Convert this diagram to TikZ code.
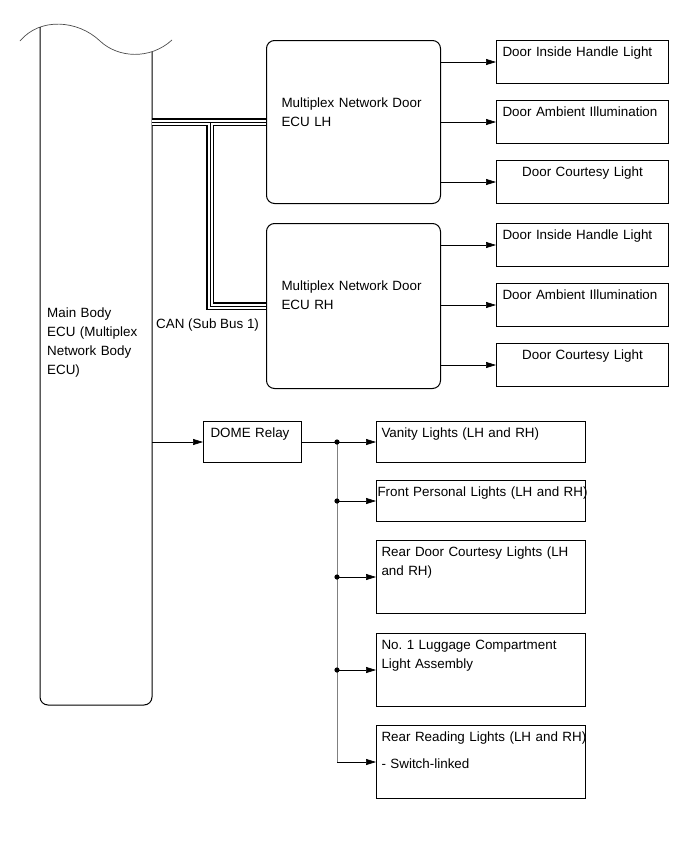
\documentclass[tikz,border=0pt]{standalone}
\usepackage{fontspec}
\setmainfont{Liberation Sans}
\usetikzlibrary{arrows.meta}
\tikzset{ecu/.style={draw,line width=1pt,rounded corners=8pt,anchor=north west,align=left,
  inner xsep=15pt,inner ysep=0pt,text width=144pt,text height=67pt,text depth=#1},
  lamp/.style={draw,line width=1pt,anchor=north west,align=left,inner xsep=6pt,inner ysep=0pt,
  text height=16pt,text depth=#1},
  door/.style={lamp=27pt,text width=160pt},
  light/.style={lamp=#1,text width=199pt,inner xsep=5pt},
  flow/.style={-{Triangle[length=10pt,width=6pt]},line width=0.7pt},
  spine/.style={line width=0.8pt,draw=black!50}}

\begin{document}
\begin{tikzpicture}[x=1pt,y=-1pt,font=\fontsize{13.4}{19}\selectfont]
\useasboundingbox (0,0) rectangle (691,854);
% main body, cut off at the top
\draw[line width=0.7pt,black!70] (20,41) .. controls (40,17) and (78,20) .. (100,41)
  .. controls (118,58) and (150,60) .. (172,40);
\draw[line width=1pt,rounded corners=8pt] (40,27) -- (40,705) -- (152,705) -- (152,52);
\coordinate (mainR) at (152,0);
\node[anchor=base west,align=left,text width=100pt,inner sep=0pt] (body) at (47,317) {Main Body\\ECU (Multiplex\\Network Body\\ECU)};
% door ECUs
\node[ecu=96pt] (ecul) at (266,40) {Multiplex Network Door\\ECU LH};
\node[ecu=98pt] (ecur) at (266,223) {Multiplex Network Door\\ECU RH};
\node[door] (handl) at (496,40) {Door Inside Handle Light};
\node[door] (ambl) at (496,100) {Door Ambient Illumination};
\node[door,align=center] (courl) at (496,160) {Door Courtesy Light};
\node[door] (handr) at (496,223) {Door Inside Handle Light};
\node[door] (ambr) at (496,283) {Door Ambient Illumination};
\node[door,align=center] (courr) at (496,343) {Door Courtesy Light};
\foreach \n in {handl,ambl,courl} \draw[flow] (ecul.east |- \n.west) -- (\n.west);
\foreach \n in {handr,ambr,courr} \draw[flow] (ecur.east |- \n.west) -- (\n.west);
% CAN sub bus
\coordinate (tap) at (210,0);
\foreach \w/\c in {8pt/black,5pt/white,0.8pt/black}
  \draw[line width=\w,draw=\c,shorten >=0.5pt,shorten <=0.5pt] (mainR |- ecul.west) -- (ecul.west) (tap |- ecul.west) |- (ecur.west);
\node[anchor=base west,inner sep=0pt] (can) at (156,328) {CAN (Sub Bus 1)};
% dome relay and room lights
\node[lamp=25pt,text width=84pt,inner xsep=7pt] (dome) at (203,421) {DOME Relay};
\node[light=25pt] (vanity) at (376,421) {Vanity Lights (LH and RH)};
\node[light=25pt,text width=207pt,inner xsep=1pt] (front) at (376,480) {\mbox{Front Personal Lights (LH and RH)}};
\node[light=57pt] (rdoor) at (376,540) {Rear Door Courtesy Lights (LH\\and RH)};
\node[light=57pt] (lugg) at (376,633) {No.\ 1 Luggage Compartment\\Light Assembly};
\node[light=57pt] (rread) at (376,725) {\mbox{Rear Reading Lights (LH and RH)}\\[8pt]- Switch-linked};
\coordinate (spine) at (337,0);
\draw[flow] (mainR |- dome.west) -- (dome.west);
\draw[flow] (dome.east) -- (vanity.west);
\draw[spine] (spine |- vanity.west) -- (spine |- rread.west);
\foreach \n in {front,rdoor,lugg,rread} \draw[flow] (spine |- \n.west) -- (\n.west);
\foreach \n in {vanity,front,rdoor,lugg} \fill (spine |- \n.west) circle (2.6pt);
\end{tikzpicture}
\end{document}
